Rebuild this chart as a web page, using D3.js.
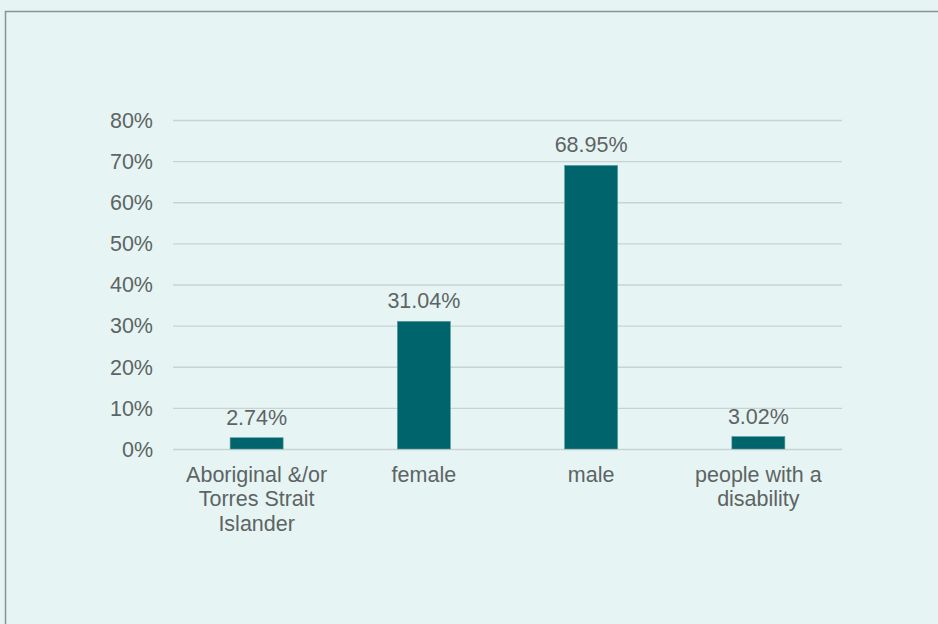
<!DOCTYPE html>
<html>
<head>
<meta charset="utf-8">
<script src="https://cdn.jsdelivr.net/npm/d3@7"></script>
<style>
  body { margin: 0; background: #fff; }
  svg { display: block; font-family: "Liberation Sans", Arial, sans-serif; }
</style>
</head>
<body>
<svg id="chart"></svg>
<script>
// Dữ liệu biểu đồ
const categories = ["Aboriginal &/or Torres Strait Islander", "female", "male", "people with a disability"];
const categoryLines = [["Aboriginal &/or", "Torres Strait", "Islander"], ["female"], ["male"], ["people with a", "disability"]];
const values = [2.74, 31.04, 68.95, 3.02];
const yTicks = [0, 10, 20, 30, 40, 50, 60, 70, 80];

const W = 938, H = 624;
const margin = { top: 120, right: 96, bottom: 175, left: 173 };
const width = W - margin.left - margin.right;
const height = H - margin.top - margin.bottom;

const svg = d3.select("#chart").attr("width", W).attr("height", H);

// Nền và khung
svg.append("rect").attr("width", W).attr("height", H).attr("fill", "#e6f4f3");
svg.append("rect")
    .attr("x", 5.5).attr("y", 11.5)
    .attr("width", W).attr("height", H)
    .attr("fill", "none")
    .attr("stroke", "#8c9292")
    .attr("stroke-width", 1.5);

const g = svg.append("g").attr("transform", `translate(${margin.left},${margin.top})`);

const x = d3.scaleBand()
    .domain(categories)
    .range([0, width])
    .paddingInner(0.683)
    .paddingOuter(0.3415);

const y = d3.scaleLinear().domain([0, 80]).range([height, 0]);

const textColor = "#5d6464";
const fontSize = "21.5px";

// Lưới ngang + nhãn trục y
const yAxis = g.append("g")
    .call(d3.axisLeft(y).tickValues(yTicks).tickFormat(d => d + "%").tickSize(-width).tickPadding(20));
yAxis.select(".domain").remove();
yAxis.selectAll(".tick line").attr("stroke", "#c9d3d3").attr("stroke-width", 1.3);
yAxis.selectAll(".tick text")
    .attr("fill", textColor)
    .style("font-size", fontSize)
    .attr("dy", "0.34em");

// Cột
g.selectAll(".bar")
    .data(values)
    .enter().append("rect")
    .attr("class", "bar")
    .attr("x", (d, i) => x(categories[i]))
    .attr("y", d => y(d))
    .attr("width", x.bandwidth())
    .attr("height", d => height - y(d))
    .attr("fill", "#00646d")
    .attr("stroke", "#5a9ca1")
    .attr("stroke-width", 0.6);

// Nhãn giá trị
g.selectAll(".label")
    .data(values)
    .enter().append("text")
    .attr("class", "label")
    .attr("x", (d, i) => x(categories[i]) + x.bandwidth() / 2)
    .attr("y", d => y(d) - 13)
    .attr("text-anchor", "middle")
    .attr("fill", textColor)
    .style("font-size", fontSize)
    .text(d => d3.format(".2f")(d) + "%");

// Nhãn trục x
const xLabels = g.selectAll(".xlab")
    .data(categoryLines)
    .enter().append("text")
    .attr("class", "xlab")
    .attr("y", height + 32.5)
    .attr("text-anchor", "middle")
    .attr("fill", textColor)
    .style("font-size", fontSize);

xLabels.each(function (lines, i) {
    const cx = x(categories[i]) + x.bandwidth() / 2;
    d3.select(this).selectAll("tspan")
        .data(lines)
        .enter().append("tspan")
        .attr("x", cx)
        .attr("dy", (d, j) => j === 0 ? 0 : 24.5)
        .text(d => d);
});
</script>
</body>
</html>
